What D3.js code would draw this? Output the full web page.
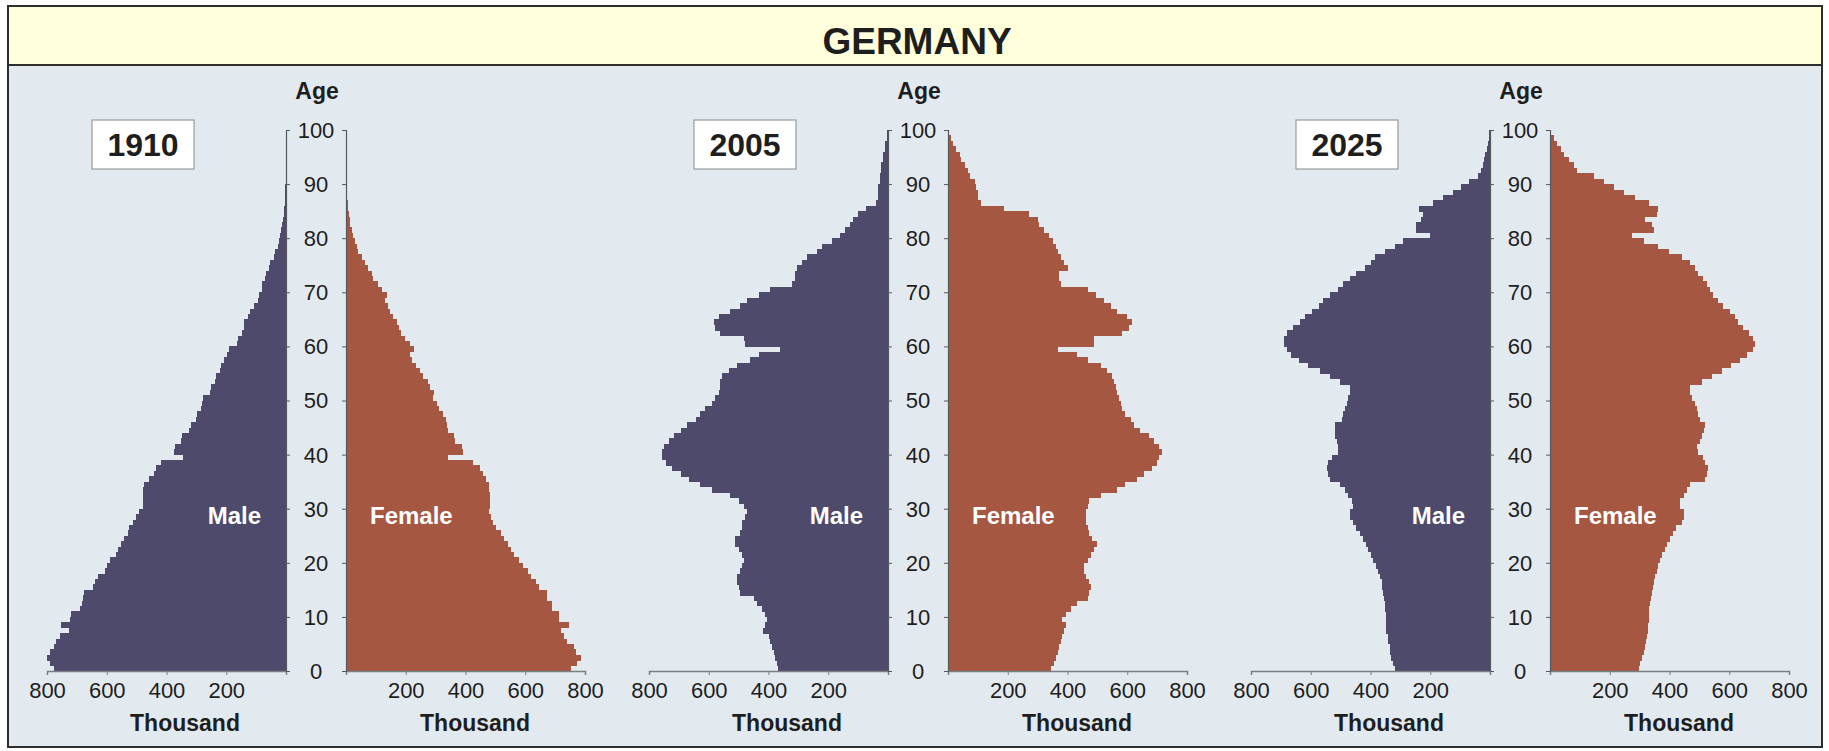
<!DOCTYPE html>
<html>
<head>
<meta charset="utf-8">
<script src="https://cdn.jsdelivr.net/npm/d3@7"></script>
<style>
  html, body { margin: 0; padding: 0; background: #ffffff; }
  svg text { font-family: "Liberation Sans", Arial, Helvetica, sans-serif; }
</style>
</head>
<body>
<svg id="chart" width="1829" height="751"></svg>
<script>
// ---------------- DATA ----------------
const title = "GERMANY";
const years = ["1910", "2005", "2025"];
const ageTicks = [0, 10, 20, 30, 40, 50, 60, 70, 80, 90, 100];
const maleTicks = [800, 600, 400, 200];
const femaleTicks = [200, 400, 600, 800];
const sexLabels = ["Male", "Female"];
const unitLabel = "Thousand";
const ageLabel = "Age";

// population in thousands, single years of age 0..99
const male1910 = [777,790,800,790,777,770,757,725,752,724, 719,691,684,680,676,647,640,630,605,600,
  588,570,563,552,541,530,524,513,502,491, 480,478,478,478,476,458,441,436,419,345,
  375,372,350,347,325,318,302,298,285,281, 278,255,250,236,233,220,217,208,197,190,
  163,160,148,142,140,126,122,108,93,90, 82,79,70,67,57,52,40,36,28,25,
  19,17,13,11,8,7,5,4,3,2, 1,1,0,0,0,0,0,0,0,0];
const female1910 = [752,774,786,769,763,741,730,719,747,713, 713,691,691,674,674,647,636,619,608,591,
  580,563,552,541,530,519,502,491,486,478, 483,483,483,480,478,469,458,447,424,341,
  391,388,365,362,341,338,335,324,310,306, 291,293,280,274,258,247,235,222,213,228,
  213,197,185,176,172,158,147,141,130,138, 119,108,91,86,74,63,52,41,36,30,
  24,19,14,12,9,8,6,4,3,2, 1,0,0,0,0,0,0,0,0,0];
const male2005 = [367,372,378,383,389,394,400,417,411,405, 411,422,439,450,494,500,505,505,494,489,
  483,489,500,511,511,494,489,489,478,472, 483,500,528,589,628,667,694,722,744,756,
  756,750,733,717,694,672,644,628,611,589, 578,567,561,561,556,533,505,461,433,361,
  478,483,561,578,583,567,528,494,472,433, 394,322,311,311,306,289,272,239,222,189,
  161,144,128,117,100,72,39,33,33,33, 28,28,22,22,17,17,11,11,5,5];
const female2005 = [344,355,361,367,372,378,383,389,394,383, 394,411,433,467,472,478,472,461,456,456,
  467,478,489,500,483,472,467,461,461,461, 467,472,511,567,594,633,656,683,700,706,
  717,706,689,672,644,622,611,594,583,578, 572,567,561,556,550,533,511,467,433,367,
  489,489,583,606,617,600,567,544,522,494, 467,378,372,372,400,389,378,367,361,350,
  339,322,306,300,272,189,111,100,100,94, 89,72,67,56,44,39,28,17,11,5];
const male2025 = [319,324,330,336,336,341,341,347,347,347, 349,352,352,356,358,360,363,369,374,380,
  391,397,408,416,424,436,447,458,469,467, 458,463,474,486,502,536,541,547,541,530,
  508,508,513,519,519,519,497,491,486,480, 474,467,469,502,536,569,610,640,665,680,
  691,691,680,658,636,619,597,574,558,536, 508,491,469,447,419,397,386,352,319,291,
  202,247,247,230,224,236,191,158,124,97, 69,41,30,24,19,16,11,7,4,2];
const female2025 = [297,302,308,313,319,322,324,327,328,330, 331,333,336,338,341,344,347,352,358,363,
  369,374,386,393,402,413,422,441,447,447, 436,436,447,458,469,519,524,530,519,513,
  497,493,502,508,516,519,502,497,491,486, 474,467,469,508,541,575,605,635,660,678,
  686,680,667,647,630,619,602,580,563,547, 536,524,511,497,486,467,441,397,363,313,
  274,347,341,319,358,363,330,286,247,213, 180,147,91,80,63,47,36,24,13,4];

const maleSeries = [male1910, male2005, male2025];
const femaleSeries = [female1910, female2005, female2025];

// ---------------- LAYOUT ----------------
const svg = d3.select("#chart");
const W = 1829, H = 751;
const frame = {x: 8, y: 6, w: 1814, h: 741};
const bandH = 59;
const panelCenters = [316, 918, 1520];
const halfGap = 30;
const halfWidth = 239;
const maleColor = "#4d4a6b";
const femaleColor = "#a65741";
const bgColor = "#e3eaef";
const textColor = "#1e1e1e";

svg.append("rect").attr("x", 0).attr("y", 0).attr("width", W).attr("height", H).attr("fill", "#ffffff");
svg.append("rect")
  .attr("x", frame.x).attr("y", frame.y).attr("width", frame.w).attr("height", frame.h)
  .attr("fill", bgColor).attr("stroke", "#2e2e2e").attr("stroke-width", 2);
svg.append("rect")
  .attr("x", frame.x).attr("y", frame.y).attr("width", frame.w).attr("height", bandH)
  .attr("fill", "#ffffdc").attr("stroke", "#2e2e2e").attr("stroke-width", 2);
svg.append("text")
  .attr("x", frame.x + frame.w / 2 + 2).attr("y", 54)
  .attr("text-anchor", "middle").attr("font-size", 37).attr("font-weight", "bold")
  .attr("fill", textColor).text(title);

const y = d3.scaleLinear().domain([0, 100]).range([671, 130]);
const ages = d3.range(0, 100);

years.forEach((yr, i) => {
  const cx = panelCenters[i];
  const g = svg.append("g");
  const xM = d3.scaleLinear().domain([0, 800]).range([cx - halfGap, cx - halfGap - halfWidth]);
  const xF = d3.scaleLinear().domain([0, 800]).range([cx + halfGap, cx + halfGap + halfWidth]);
  const mData = ages.map(a => ({age: a, v: maleSeries[i][a] || 0}));
  const fData = ages.map(a => ({age: a, v: femaleSeries[i][a] || 0}));

  g.append("g").selectAll("rect").data(mData.filter(d => d.v > 0)).join("rect")
    .attr("x", d => xM(d.v)).attr("width", d => xM(0) - xM(d.v))
    .attr("y", d => y(d.age + 1)).attr("height", d => y(d.age) - y(d.age + 1) + 0.4)
    .attr("fill", maleColor).attr("shape-rendering", "crispEdges");
  g.append("g").selectAll("rect").data(fData.filter(d => d.v > 0)).join("rect")
    .attr("x", xF(0)).attr("width", d => xF(d.v) - xF(0))
    .attr("y", d => y(d.age + 1)).attr("height", d => y(d.age) - y(d.age + 1) + 0.4)
    .attr("fill", femaleColor).attr("shape-rendering", "crispEdges");

  // x axes
  const axM = g.append("g").attr("transform", `translate(0,${y(0)})`)
    .call(d3.axisBottom(xM).tickValues(maleTicks.concat([0])).tickSize(4).tickPadding(7)
      .tickFormat(d => d === 0 ? "" : d));
  const axF = g.append("g").attr("transform", `translate(0,${y(0)})`)
    .call(d3.axisBottom(xF).tickValues([0].concat(femaleTicks)).tickSize(4).tickPadding(7)
      .tickFormat(d => d === 0 ? "" : d));
  [axM, axF].forEach(ax => {
    ax.select(".domain").attr("stroke", "#7a7f84").attr("stroke-width", 1.5);
    ax.selectAll(".tick line").attr("stroke", "#7a7f84");
    ax.selectAll(".tick text").attr("font-size", 22).attr("fill", textColor)
      .attr("font-family", "'Liberation Sans', Arial, sans-serif");
  });

  // vertical age axes
  const ayM = g.append("g").attr("transform", `translate(${xM(0)},0)`)
    .call(d3.axisRight(y).tickValues(ageTicks).tickSize(4).tickFormat(""));
  const ayF = g.append("g").attr("transform", `translate(${xF(0)},0)`)
    .call(d3.axisLeft(y).tickValues(ageTicks).tickSize(4).tickFormat(""));
  [ayM, ayF].forEach(ax => {
    ax.select(".domain").attr("stroke", "#55595e").attr("stroke-width", 1.2);
    ax.selectAll(".tick line").attr("stroke", "#55595e");
  });
  g.append("g").selectAll("text").data(ageTicks).join("text")
    .attr("x", cx).attr("y", d => y(d)).attr("dy", "0.36em")
    .attr("text-anchor", "middle").attr("font-size", 22).attr("fill", textColor)
    .text(d => d);

  g.append("text").attr("x", cx + 1).attr("y", 99).attr("text-anchor", "middle")
    .attr("font-size", 23).attr("font-weight", "bold").attr("fill", textColor).text(ageLabel);

  // year box
  g.append("rect").attr("x", cx - 224).attr("y", 120).attr("width", 102).attr("height", 49)
    .attr("fill", "#ffffff").attr("stroke", "#9a9a9a").attr("stroke-width", 1.2);
  g.append("text").attr("x", cx - 173).attr("y", 156).attr("text-anchor", "middle")
    .attr("font-size", 32).attr("font-weight", "bold").attr("fill", textColor).text(yr);

  // sex labels
  g.append("text").attr("x", xM(0) - 25).attr("y", 524).attr("text-anchor", "end")
    .attr("font-size", 24).attr("font-weight", "bold").attr("fill", "#ffffff").text(sexLabels[0]);
  g.append("text").attr("x", xF(0) + 24).attr("y", 524).attr("text-anchor", "start")
    .attr("font-size", 24).attr("font-weight", "bold").attr("fill", "#ffffff").text(sexLabels[1]);

  // unit labels
  g.append("text").attr("x", cx - 131).attr("y", 731).attr("text-anchor", "middle")
    .attr("font-size", 23).attr("font-weight", "bold").attr("fill", textColor).text(unitLabel);
  g.append("text").attr("x", cx + 159).attr("y", 731).attr("text-anchor", "middle")
    .attr("font-size", 23).attr("font-weight", "bold").attr("fill", textColor).text(unitLabel);
});
</script>
</body>
</html>
